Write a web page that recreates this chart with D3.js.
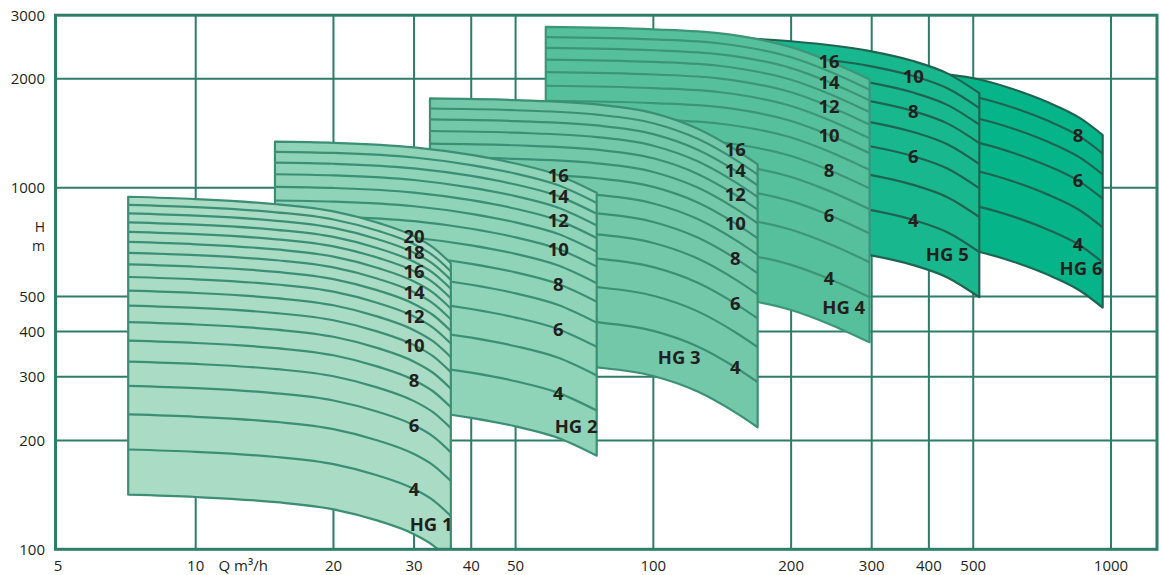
<!DOCTYPE html>
<html>
<head>
<meta charset="utf-8">
<script src="https://cdn.jsdelivr.net/npm/d3@7"></script>
<style>
  body { margin: 0; background: #fff; }
  svg { display: block; font-family: "Open Sans", "Noto Sans", sans-serif; }
</style>
</head>
<body>
<svg id="chart" width="1162" height="575"></svg>
<script>
// axis ticks and grid
const xGrid = [10, 20, 30, 40, 50, 100, 200, 300, 400, 500, 1000];
const xTickLabels = [5, 10, 20, 30, 40, 50, 100, 200, 300, 400, 500, 1000];
const yGrid = [200, 300, 400, 500, 1000, 2000];
const yTickLabels = [100, 200, 300, 400, 500, 1000, 2000, 3000];

// head per stage (m) against flow Q (m3/h)
const hg1Q = [7.12, 10, 15, 20, 25, 30, 33, 36.1];
const hg1H = [47.2, 46.5, 45.0, 43.0, 40.0, 36.7, 34.2, 30.9];
const hg2Q = [14.9, 20, 30, 40, 50, 62, 75.2];
const hg2H = [83.8, 83.2, 80.8, 77.0, 72.9, 67.7, 60.5];
const hg3Q = [32.5, 50, 75.2, 100, 125, 151, 169];
const hg3H = [110.4, 109.2, 106.2, 100.5, 91.0, 79.7, 72.5];
const hg4Q = [58.2, 100, 140, 169, 200, 242, 296.8];
const hg4H = [174, 171.4, 167, 161, 153, 140, 124.5];
const hg5Q = [140, 200, 297.5, 368, 440, 515.5];
const hg5H = [237, 231, 217, 204, 188, 166];
const hg6Q = [300, 423, 519, 612, 724, 856, 959];
const hg6H = [238, 230, 221, 208, 192, 173, 155.4];

// stage ranges and labelled stages
const stageMin = [3, 3, 3, 3, 3, 3];
const stageMax = [20, 16, 16, 16, 11, 9];
const stageLabels = [
  [4, 6, 8, 10, 12, 14, 16, 18, 20],
  [4, 6, 8, 10, 12, 14, 16],
  [4, 6, 8, 10, 12, 14, 16],
  [4, 6, 8, 10, 12, 14, 16],
  [4, 6, 8, 10],
  [4, 6, 8]
];
const labelQ = [30, 62, 151, 242, 370, 847];
const pumpNames = ["HG 1", "HG 2", "HG 3", "HG 4", "HG 5", "HG 6"];
const nameQ = [32.7, 67.8, 113.9, 260.6, 438.8, 860];
const nameH = [117.1, 219.5, 338.5, 465.5, 654.8, 597.7];

const fills = ["#a9dbc5", "#8fd3b8", "#74c8aa", "#55c09b", "#18b78e", "#06b48a"];
const strokes = ["#3b8f74", "#3b8f74", "#3b8f74", "#3d9578", "#1f6450", "#1f6450"];
const gridColor = "#2e7d66";
const textColor = "#231f20";

const pumpQ = [hg1Q, hg2Q, hg3Q, hg4Q, hg5Q, hg6Q];
const pumpH = [hg1H, hg2H, hg3H, hg4H, hg5H, hg6H];

const svg = d3.select("#chart");
const plotLeft = 55.5, plotRight = 1157, plotTop = 15.2, plotBottom = 549.3;

const x = d3.scaleLog().domain([10, 1000]).range([195.7, 1111]);
const y = d3.scaleLog().domain([100, 3000]).range([plotBottom, plotTop]);

svg.append("defs").append("clipPath").attr("id", "plot")
  .append("rect")
  .attr("x", plotLeft).attr("y", plotTop)
  .attr("width", plotRight - plotLeft).attr("height", plotBottom - plotTop);

// grid
const grid = svg.append("g").attr("stroke", gridColor).attr("stroke-width", 2);
grid.selectAll(".vx").data(xGrid).enter().append("line")
  .attr("x1", d => x(d)).attr("x2", d => x(d))
  .attr("y1", plotTop).attr("y2", plotBottom);
grid.selectAll(".hy").data(yGrid).enter().append("line")
  .attr("x1", plotLeft).attr("x2", plotRight)
  .attr("y1", d => y(d)).attr("y2", d => y(d));

// pump fields, HG 6 at the back, HG 1 in front
const fields = svg.append("g").attr("clip-path", "url(#plot)");
const labelLayer = svg.append("g");

d3.range(5, -1, -1).forEach(p => {
  const pts = pumpQ[p].map((q, i) => ({ q: q, h: pumpH[p][i] }));
  const nMin = stageMin[p], nMax = stageMax[p];
  const g = fields.append("g");

  const area = d3.area()
    .x(d => x(d.q))
    .y0(d => y(d.h * nMin))
    .y1(d => y(d.h * nMax))
    .curve(d3.curveMonotoneX);

  g.append("path")
    .attr("d", area(pts))
    .attr("fill", fills[p])
    .attr("stroke", strokes[p])
    .attr("stroke-width", 2.2)
    .attr("stroke-linejoin", "round");

  d3.range(nMin + 1, nMax).forEach(n => {
    const line = d3.line()
      .x(d => x(d.q))
      .y(d => y(d.h * n))
      .curve(d3.curveMonotoneX);
    g.append("path")
      .attr("d", line(pts))
      .attr("fill", "none")
      .attr("stroke", strokes[p])
      .attr("stroke-width", 2.2);
  });

  // head per stage at the label position
  const hAt = d3.scaleLog().domain(pumpQ[p]).range(pumpH[p]);
  const hl = hAt(labelQ[p]);
  stageLabels[p].forEach(n => {
    labelLayer.append("text")
      .attr("x", x(labelQ[p]))
      .attr("y", y(hl * n))
      .attr("dy", "0.36em")
      .attr("text-anchor", "middle")
      .attr("font-size", 18.5)
      .attr("font-weight", 700)
      .attr("fill", textColor)
      .text(n);
  });

  labelLayer.append("text")
    .attr("x", x(nameQ[p]))
    .attr("y", y(nameH[p]))
    .attr("dy", "0.36em")
    .attr("text-anchor", "middle")
    .attr("font-size", 18.5)
    .attr("font-weight", 700)
    .attr("fill", textColor)
    .text(pumpNames[p]);
});

// frame
svg.append("rect")
  .attr("x", plotLeft).attr("y", plotTop)
  .attr("width", plotRight - plotLeft).attr("height", plotBottom - plotTop)
  .attr("fill", "none")
  .attr("stroke", gridColor)
  .attr("stroke-width", 3);

// tick labels
svg.selectAll(".ylab").data(yTickLabels).enter().append("text")
  .attr("x", 45)
  .attr("y", d => y(d))
  .attr("dy", "0.36em")
  .attr("text-anchor", "end")
  .attr("font-size", 15)
  .attr("fill", textColor)
  .text(d => d);

svg.selectAll(".xlab").data(xTickLabels).enter().append("text")
  .attr("x", d => x(d))
  .attr("y", 571)
  .attr("text-anchor", "middle")
  .attr("font-size", 15)
  .attr("fill", textColor)
  .text(d => d);

svg.append("text")
  .attr("x", 218.5).attr("y", 571)
  .attr("font-size", 15)
  .attr("fill", textColor)
  .text("Q m³/h");

// axis title H / m
svg.append("text")
  .attr("x", 45).attr("y", 232)
  .attr("text-anchor", "end")
  .attr("font-size", 14)
  .attr("fill", textColor)
  .text("H");
svg.append("text")
  .attr("x", 45).attr("y", 251)
  .attr("text-anchor", "end")
  .attr("font-size", 14)
  .attr("fill", textColor)
  .text("m");
</script>
</body>
</html>
